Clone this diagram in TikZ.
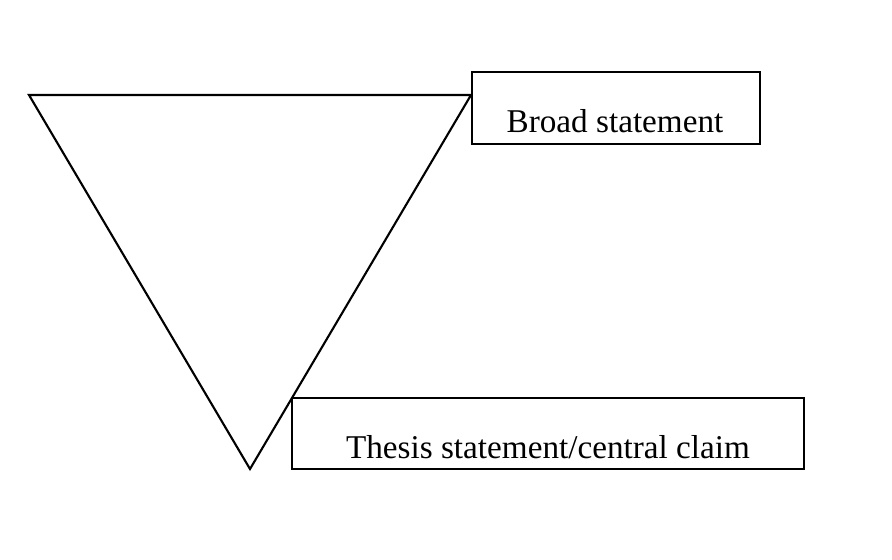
\documentclass[tikz,border=0pt]{standalone}
\usepackage{fontspec}
\setmainfont{Liberation Serif}
\usetikzlibrary{positioning}

\begin{document}
\begin{tikzpicture}[x=0.02cm, y=-0.02cm, line width=1.2pt,
    labelbox/.style={draw, rectangle, inner sep=0pt},
    labeltext/.style={anchor=base, inner sep=0pt, font=\fontsize{18.9}{22}\selectfont}]
            \useasboundingbox (0,0) rectangle (892,559);
            \coordinate (L) at (29,95); \coordinate (R) at (471,95); \coordinate (T) at (250,469);
            \draw[line join=miter] (L) -- (R) -- (T) -- cycle;
            \node[labelbox, minimum width=5.76cm, minimum height=1.44cm] (broad) at (616,108) {};
            \node[labeltext] (broadtext) at (615,132) {Broad statement};
            \node[labelbox, minimum width=10.24cm, minimum height=1.42cm] (thesis) at (548,433.5) {};
            \node[labeltext] (thesistext) at (548,458) {Thesis statement/central claim};
        \end{tikzpicture}
\end{document}
